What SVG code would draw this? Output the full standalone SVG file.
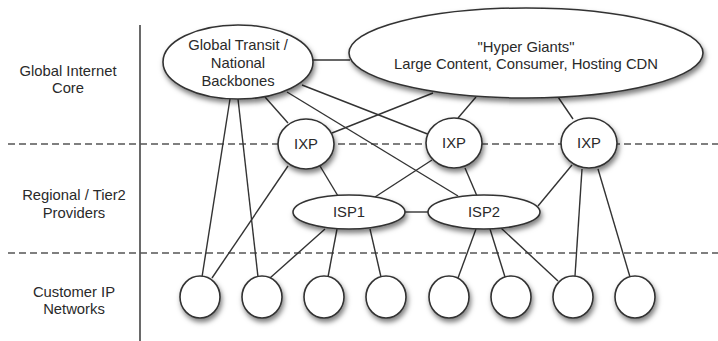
<svg xmlns="http://www.w3.org/2000/svg" width="718" height="341" viewBox="0 0 718 341">
<style>
.lbl{font-family:"Liberation Sans",Arial,sans-serif;font-size:14.8px;fill:#2a2a2a;text-anchor:middle}
.node{fill:#fff;stroke:#333;stroke-width:1.6;filter:url(#sh)}
.conn line{stroke:#333;stroke-width:1.4}
.dash{stroke:#555;stroke-width:1.6;stroke-dasharray:7,4}
</style>
<defs>
<filter id="sh" x="-30%" y="-30%" width="160%" height="170%">
<feDropShadow dx="1.5" dy="3.5" stdDeviation="2.5" flood-color="#000" flood-opacity="0.5"/>
</filter>
</defs>
<rect width="718" height="341" fill="#fff"/>
<g id="grid">
<line x1="140" y1="25" x2="140" y2="341" stroke="#444" stroke-width="1.6"/>
<line class="dash" x1="8" y1="144" x2="718" y2="144"/>
<line class="dash" x1="8" y1="253" x2="718" y2="253"/>
</g>
<g id="layer-labels">
<text class="lbl" x="68" y="76">Global Internet</text>
<text class="lbl" x="68" y="93">Core</text>
<text class="lbl" x="74" y="200">Regional / Tier2</text>
<text class="lbl" x="74" y="218">Providers</text>
<text class="lbl" x="74" y="297">Customer IP</text>
<text class="lbl" x="74" y="314">Networks</text>
</g>
<g id="connectors" class="conn">
<line x1="313" y1="60" x2="350" y2="60"/>
<line x1="230" y1="99" x2="202" y2="277"/>
<line x1="238" y1="99" x2="258" y2="277"/>
<line x1="265" y1="97" x2="288" y2="123"/>
<line x1="302" y1="85" x2="430" y2="135"/>
<line x1="287" y1="92" x2="458" y2="196"/>
<line x1="433" y1="93" x2="332" y2="133"/>
<line x1="476" y1="97" x2="458" y2="118"/>
<line x1="558" y1="97" x2="573" y2="119"/>
<line x1="288" y1="166" x2="212" y2="278"/>
<line x1="320" y1="166" x2="338" y2="196"/>
<line x1="432" y1="160" x2="375" y2="197"/>
<line x1="465" y1="168" x2="477" y2="196"/>
<line x1="572" y1="165" x2="538" y2="206"/>
<line x1="582" y1="169" x2="575" y2="276"/>
<line x1="598" y1="169" x2="630" y2="277"/>
<line x1="405" y1="212" x2="428" y2="212"/>
<line x1="325" y1="229" x2="270" y2="278"/>
<line x1="337" y1="229" x2="328" y2="277"/>
<line x1="370" y1="229" x2="381" y2="277"/>
<line x1="476" y1="229" x2="458" y2="278"/>
<line x1="490" y1="229" x2="505" y2="277"/>
<line x1="501" y1="228" x2="558" y2="281"/>
</g>
<g id="global-transit">
<ellipse class="node" cx="238" cy="62" rx="75" ry="37"/>
<text class="lbl" x="238" y="50">Global Transit /</text>
<text class="lbl" x="238" y="68">National</text>
<text class="lbl" x="238" y="86">Backbones</text>
</g>
<g id="hyper-giants">
<ellipse class="node" cx="526" cy="53" rx="177" ry="45"/>
<text class="lbl" x="526" y="52">"Hyper Giants"</text>
<text class="lbl" x="526" y="69">Large Content, Consumer, Hosting CDN</text>
</g>
<g id="ixp1">
<ellipse class="node" cx="306" cy="144" rx="28" ry="25"/>
<text class="lbl" x="306" y="149">IXP</text>
</g>
<g id="ixp2">
<ellipse class="node" cx="454" cy="143" rx="28" ry="25"/>
<text class="lbl" x="454" y="148">IXP</text>
</g>
<g id="ixp3">
<ellipse class="node" cx="589" cy="143" rx="28" ry="25"/>
<text class="lbl" x="589" y="148">IXP</text>
</g>
<g id="isp1">
<ellipse class="node" cx="349" cy="212" rx="56" ry="17"/>
<text class="lbl" x="349" y="217">ISP1</text>
</g>
<g id="isp2">
<ellipse class="node" cx="484" cy="212" rx="56" ry="17"/>
<text class="lbl" x="484" y="217">ISP2</text>
</g>
<g id="c1"><ellipse class="node" cx="200" cy="297" rx="20" ry="21"/></g>
<g id="c2"><ellipse class="node" cx="262" cy="297" rx="20" ry="21"/></g>
<g id="c3"><ellipse class="node" cx="324" cy="297" rx="20" ry="21"/></g>
<g id="c4"><ellipse class="node" cx="386" cy="297" rx="20" ry="21"/></g>
<g id="c5"><ellipse class="node" cx="449" cy="297" rx="20" ry="21"/></g>
<g id="c6"><ellipse class="node" cx="511" cy="297" rx="20" ry="21"/></g>
<g id="c7"><ellipse class="node" cx="573" cy="297" rx="20" ry="21"/></g>
<g id="c8"><ellipse class="node" cx="635" cy="297" rx="20" ry="21"/></g>
</svg>
